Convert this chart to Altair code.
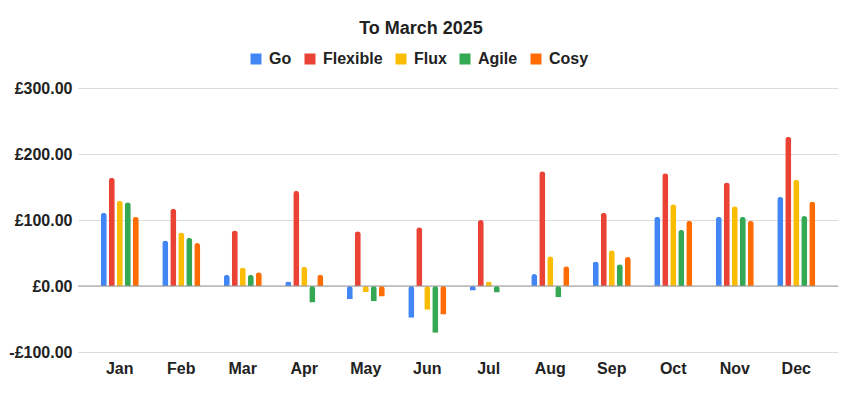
import altair as alt
import pandas as pd

months = ["Jan", "Feb", "Mar", "Apr", "May", "Jun", "Jul", "Aug", "Sep", "Oct", "Nov", "Dec"]
tariffs = ["Go", "Flexible", "Flux", "Agile", "Cosy"]
colors = ["#4285F4", "#EA4335", "#FBBC04", "#34A853", "#FF6D01"]

go       = [111, 69, 17, 7, -20, -48, -7, 18, 37, 105, 105, 135]
flexible = [164, 117, 84, 144, 83, 89, 100, 174, 111, 171, 157, 226]
flux     = [129, 81, 28, 29, -9, -36, 7, 45, 54, 124, 121, 161]
agile    = [127, 73, 17, -25, -23, -71, -10, -17, 33, 85, 105, 106]
cosy     = [105, 65, 21, 17, -16, -43, 0, 30, 44, 99, 99, 128]

series = {"Go": go, "Flexible": flexible, "Flux": flux, "Agile": agile, "Cosy": cosy}
rows = []
for t in tariffs:
    for m, v in zip(months, series[t]):
        rows.append({"Month": m, "Tariff": t, "Value": v})
df = pd.DataFrame(rows)

FONT = "Liberation Sans"

bars = alt.Chart(df).mark_bar(cornerRadiusEnd=3).encode(
    x=alt.X("Month:N", sort=months,
            scale=alt.Scale(paddingInner=0.382, paddingOuter=0.37),
            axis=alt.Axis(title=None, labelAngle=0, ticks=False, domain=False, grid=False,
                          labelFont=FONT, labelFontSize=16, labelFontWeight="bold",
                          labelColor="#222222", labelPadding=8)),
    xOffset=alt.XOffset("Tariff:N", sort=tariffs,
                        scale=alt.Scale(paddingInner=0.25, paddingOuter=0)),
    y=alt.Y("Value:Q", scale=alt.Scale(domain=[-100, 300], nice=False),
            axis=alt.Axis(title=None, values=[-100, 0, 100, 200, 300], ticks=False, domain=False,
                          grid=True, gridColor="#dcdcdc", gridWidth=1,
                          labelFont=FONT, labelFontSize=16, labelFontWeight="bold",
                          labelColor="#222222", labelPadding=6,
                          labelExpr="(datum.value < 0 ? '-' : '') + '£' + format(abs(datum.value), ',.2f')")),
    color=alt.Color("Tariff:N", sort=tariffs,
                    scale=alt.Scale(domain=tariffs, range=colors),
                    legend=alt.Legend(title=None, orient="none", direction="horizontal",
                                      legendX=170, legendY=-37,
                                      symbolType="square", symbolSize=121, symbolStrokeWidth=0,
                                      labelFont=FONT, labelFontSize=16, labelFontWeight="bold",
                                      labelColor="#222222", labelOffset=5, columnPadding=10)),
)

zero = alt.Chart(pd.DataFrame({"y": [0]})).mark_rule(color="#999999", strokeWidth=1).encode(
    y=alt.Y("y:Q")
)

chart = alt.layer(bars, zero).properties(
    width=760,
    height=264,
    background="white",
    title=alt.TitleParams("To March 2025", font=FONT, fontSize=18, fontWeight="bold",
                          color="#222222", anchor="middle", dx=-37, offset=13),
    autosize=alt.AutoSizeParams(type="none"),
    padding={"left": 70, "top": 80, "right": 16, "bottom": 40},
).configure_view(strokeWidth=0, stroke=None)

chart.save("out.html", embed_options={"renderer": "svg", "actions": False})
